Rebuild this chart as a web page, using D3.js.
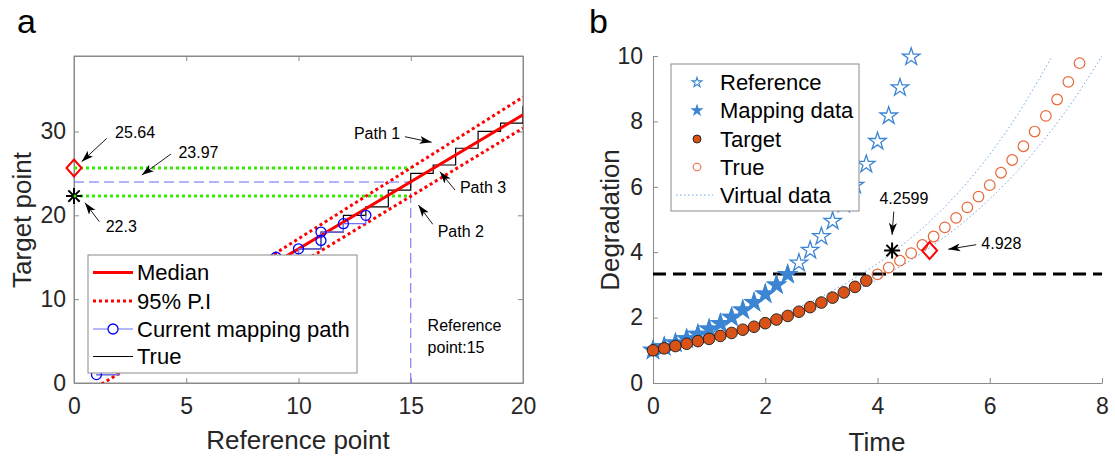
<!DOCTYPE html>
<html>
<head>
<meta charset="utf-8">
<script src="https://cdn.jsdelivr.net/npm/d3@7"></script>
<style>
  body { margin: 0; background: #fff; }
  svg { display: block; }
</style>
</head>
<body>
<svg id="fig" width="1115" height="460"></svg>
<script>
// ---------- panel a data ----------
var refPoints = [1,2,3,4,5,6,7,8,9,10,11,12,13,14,15,16,17,18,19,20];
var trueTarget = [1,3,4,6,8,9,11,13,14,16,18,20,21,23,25,26,28,30,31,33];
var bandX = [1, 20];
var medianY = [1.6, 32];
var upperY = [2.0, 34.1];
var lowerY = [-0.5, 30.4];
var pathX = [1,2,2,3,3,4,4,5,5,6,6,7,7,8,8,9,9,10,10,11,11,11,12,12,13,13];
var pathY = [1,1,3,3,4,4,6,6,8,8,9,9,11,11,13,13,15,15,16,16,17,18,18,19,19,20];
var markX = [1,2,3,4,5,6,7,8,9,10,11,11,12,13];
var markY = [1,3,4,6,8,9,11,13,15,16,17,18,19,20];
var refPoint = 15, predTarget = 23.97, upperTarget = 25.64, lowerTarget = 22.3;

// ---------- panel b data ----------
var refTime = [0,0.2,0.4,0.6,0.8,1.0,1.2,1.4,1.6,1.8,2.0,2.2,2.4,2.6,2.8,3.0,3.2,3.4,3.6,3.8,4.0,4.2,4.4,4.6];
var refDeg = [1.00,1.11,1.22,1.35,1.49,1.65,1.82,2.01,2.23,2.46,2.72,3.00,3.32,3.67,4.06,4.48,4.95,5.47,6.05,6.69,7.39,8.17,9.03,9.97];
var mapTime = [0,0.2,0.4,0.6,0.8,1.0,1.2,1.4,1.6,1.8,2.0,2.2,2.4];
var mapDeg = [1.00,1.11,1.22,1.35,1.49,1.65,1.82,2.01,2.23,2.46,2.72,3.00,3.32];
var targetTime = [0,0.2,0.4,0.6,0.8,1.0,1.2,1.4,1.6,1.8,2.0,2.2,2.4,2.6,2.8,3.0,3.2,3.4,3.6,3.8];
var targetDeg = [1.00,1.06,1.13,1.20,1.28,1.35,1.44,1.53,1.63,1.72,1.83,1.94,2.05,2.18,2.32,2.46,2.61,2.77,2.94,3.13];
var trueTime = [4.0,4.2,4.4,4.6,4.8,5.0,5.2,5.4,5.6,5.8,6.0,6.2,6.4,6.6,6.8,7.0,7.2,7.4,7.6];
var trueDeg = [3.32,3.53,3.74,3.97,4.22,4.48,4.76,5.05,5.37,5.70,6.05,6.43,6.82,7.24,7.69,8.17,8.67,9.21,9.78];
var virtUpT = [0,0.5,1,1.5,2,2.5,3,3.5,4,4.5,5,5.5,6,6.5,7,7.1];
var virtUpD = [1.00,1.18,1.38,1.63,1.91,2.25,2.64,3.11,3.65,4.30,5.05,5.94,6.99,8.22,9.66,9.97];
var virtLoT = [0,0.5,1,1.5,2,2.5,3,3.5,4,4.5,5,5.5,6,6.5,7,7.5,8];
var virtLoD = [1.00,1.16,1.33,1.54,1.78,2.05,2.37,2.74,3.17,3.66,4.22,4.87,5.63,6.50,7.51,8.67,10.0];
var threshold = 3.33;
var predTime = 4.2599, trueEol = 4.928, eolDeg = 4.05;

var font = "'Liberation Sans', Arial, Helvetica, sans-serif";
var txt = "#262626", axCol = "#8a8a8a";

var svg = d3.select("#fig").style("font-family", font);
var defs = svg.append("defs");
defs.append("marker").attr("id", "ah")
    .attr("viewBox", "0 0 12 10").attr("refX", 12).attr("refY", 5)
    .attr("markerWidth", 12).attr("markerHeight", 10)
    .attr("markerUnits", "userSpaceOnUse").attr("orient", "auto")
  .append("path").attr("d", "M0,1 L12,5 L0,9 L3,5 Z").attr("fill", "#000");

function asterisk(g, cx, cy, r, w) {
    var d = r * 0.7071;
    g.append("path")
        .attr("d", "M" + (cx - r) + "," + cy + "H" + (cx + r) + "M" + cx + "," + (cy - r) + "V" + (cy + r)
            + "M" + (cx - d) + "," + (cy - d) + "L" + (cx + d) + "," + (cy + d)
            + "M" + (cx - d) + "," + (cy + d) + "L" + (cx + d) + "," + (cy - d))
        .attr("stroke", "#000").attr("stroke-width", w).attr("fill", "none");
}
function diamond(g, cx, cy) {
    g.append("path")
        .attr("d", "M" + cx + "," + (cy - 8.5) + "L" + (cx + 7.5) + "," + cy + "L" + cx + "," + (cy + 8.5) + "L" + (cx - 7.5) + "," + cy + "Z")
        .attr("stroke", "#ff0000").attr("stroke-width", 2).attr("fill", "none");
}
function arrow(g, x1, y1, x2, y2) {
    g.append("line").attr("x1", x1).attr("y1", y1).attr("x2", x2).attr("y2", y2)
        .attr("stroke", "#000").attr("stroke-width", 0.9).attr("marker-end", "url(#ah)");
}
function label(g, x, y, s, size, anchor) {
    return g.append("text").attr("x", x).attr("y", y).attr("dy", "0.35em")
        .attr("font-size", size).attr("fill", "#000").attr("text-anchor", anchor || "start").text(s);
}
function styleAxis(a) {
    a.attr("font-size", 23).attr("font-family", font);
    a.selectAll("line").attr("stroke", axCol);
    a.selectAll("path").attr("stroke", axCol);
    a.selectAll("text").attr("fill", txt);
}

// ================= panel a =================
var xA = d3.scaleLinear().domain([0, 20]).range([74, 523]);
var yA = d3.scaleLinear().domain([0, 39]).range([383, 56]);
var gA = svg.append("g");

defs.append("clipPath").attr("id", "clipA").append("rect")
    .attr("x", 74).attr("y", 56).attr("width", 449).attr("height", 327);

styleAxis(gA.append("g").attr("transform", "translate(0,383)")
    .call(d3.axisBottom(xA).tickValues([0,5,10,15,20]).tickSizeInner(-5).tickSizeOuter(0).tickPadding(15)));
styleAxis(gA.append("g").attr("transform", "translate(74,0)")
    .call(d3.axisLeft(yA).tickValues([0,10,20,30]).tickSizeInner(-5).tickSizeOuter(0).tickPadding(8)));
styleAxis(gA.append("g").attr("transform", "translate(0,56)")
    .call(d3.axisTop(xA).tickValues([0,5,10,15,20]).tickSizeInner(-5).tickSizeOuter(0).tickFormat("")));
styleAxis(gA.append("g").attr("transform", "translate(523,0)")
    .call(d3.axisRight(yA).tickValues([0,10,20,30]).tickSizeInner(-5).tickSizeOuter(0).tickFormat("")));
gA.append("rect").attr("x", 74).attr("y", 56).attr("width", 449).attr("height", 327)
    .attr("fill", "none").attr("stroke", axCol).attr("stroke-width", 1);

var plotA = gA.append("g").attr("clip-path", "url(#clipA)");
var lineA = d3.line().x(d => xA(d[0])).y(d => yA(d[1]));

// green interval lines and blue reference guides
[upperTarget, lowerTarget].forEach(function (v) {
    plotA.append("path").datum([[0, v], [refPoint, v]]).attr("d", lineA)
        .attr("stroke", "#33ee00").attr("stroke-width", 3).attr("stroke-dasharray", "3,3").attr("fill", "none");
});
plotA.append("path").datum([[0, predTarget], [refPoint, predTarget]]).attr("d", lineA)
    .attr("stroke", "#6666ff").attr("stroke-width", 1).attr("stroke-dasharray", "10,5").attr("fill", "none");
plotA.append("path").datum([[refPoint, 0], [refPoint, predTarget]]).attr("d", lineA)
    .attr("stroke", "#6666ff").attr("stroke-width", 1).attr("stroke-dasharray", "10,5").attr("fill", "none");

// true staircase
plotA.append("path").datum(refPoints.map((x, i) => [x, trueTarget[i]]))
    .attr("d", d3.line().x(d => xA(d[0])).y(d => yA(d[1])).curve(d3.curveStepAfter))
    .attr("stroke", "#000").attr("stroke-width", 1.2).attr("fill", "none");

// median and prediction interval
plotA.append("path").datum(bandX.map((x, i) => [x, medianY[i]])).attr("d", lineA)
    .attr("stroke", "#ff0000").attr("stroke-width", 3).attr("fill", "none");
[upperY, lowerY].forEach(function (arr) {
    plotA.append("path").datum(bandX.map((x, i) => [x, arr[i]])).attr("d", lineA)
        .attr("stroke", "#ff0000").attr("stroke-width", 3).attr("stroke-dasharray", "3,3").attr("fill", "none");
});

// current mapping path
plotA.append("path").datum(pathX.map((x, i) => [x, pathY[i]])).attr("d", lineA)
    .attr("stroke", "#7070ff").attr("stroke-width", 1.2).attr("fill", "none");
gA.selectAll("circle.mp").data(markX.map((x, i) => [x, markY[i]])).enter()
    .append("circle").attr("class", "mp")
    .attr("cx", d => xA(d[0])).attr("cy", d => yA(d[1])).attr("r", 5)
    .attr("fill", "none").attr("stroke", "#0000ff").attr("stroke-width", 1.3);

diamond(gA, xA(0), yA(upperTarget));
asterisk(gA, xA(0), yA(lowerTarget), 8, 2);
gA.append("circle").attr("cx", xA(0) + 1).attr("cy", yA(lowerTarget)).attr("r", 1.5).attr("fill", "#33ee00");

// annotations a
label(gA, xA(1.83), yA(29.85), "25.64", 16);
arrow(gA, xA(1.46), yA(29.18), xA(0.34), yA(26.39));
label(gA, xA(4.65), yA(27.47), "23.97", 16);
arrow(gA, xA(4.32), yA(27.31), xA(3.02), yA(24.8));
label(gA, xA(1.41), yA(18.72), "22.3", 16);
arrow(gA, xA(1.13), yA(19.24), xA(0.49), yA(21.5));
label(gA, xA(12.47), yA(29.78), "Path 1", 16);
arrow(gA, xA(14.74), yA(29.37), xA(15.93), yA(28.71));
label(gA, xA(17.19), yA(23.34), "Path 3", 16);
arrow(gA, xA(16.97), yA(23.02), xA(16.3), yA(25.2));
label(gA, xA(16.2), yA(18.04), "Path 2", 16);
arrow(gA, xA(15.98), yA(18.93), xA(15.34), yA(21.23));
label(gA, xA(15.75), yA(6.92), "Reference", 16);
label(gA, xA(15.75), yA(4.26), "point:15", 16);

// legend a
var legA = gA.append("g");
legA.append("rect").attr("x", 88).attr("y", 255).attr("width", 269).attr("height", 118)
    .attr("fill", "#fff").attr("stroke", axCol).attr("stroke-width", 1);
var legRowsA = [
    {name: "Median", y: 272.5},
    {name: "95% P.I", y: 301},
    {name: "Current mapping path", y: 329},
    {name: "True", y: 356.5}
];
legRowsA.forEach(function (r, i) {
    var ln = legA.append("line").attr("x1", 93).attr("x2", 133).attr("y1", r.y).attr("y2", r.y);
    if (i == 0) ln.attr("stroke", "#ff0000").attr("stroke-width", 3);
    if (i == 1) ln.attr("stroke", "#ff0000").attr("stroke-width", 3).attr("stroke-dasharray", "3,3");
    if (i == 2) {
        ln.attr("stroke", "#7070ff").attr("stroke-width", 1.2);
        legA.append("circle").attr("cx", 113).attr("cy", r.y).attr("r", 5)
            .attr("fill", "#fff").attr("stroke", "#0000ff").attr("stroke-width", 1.3);
    }
    if (i == 3) ln.attr("stroke", "#000").attr("stroke-width", 1.2);
    legA.append("text").attr("x", 137).attr("y", r.y).attr("dy", "0.35em")
        .attr("font-size", 22).attr("fill", "#000").text(r.name);
});

gA.append("text").attr("x", 298).attr("y", 449).attr("text-anchor", "middle")
    .attr("font-size", 26).attr("fill", txt).text("Reference point");
gA.append("text").attr("transform", "translate(31,220) rotate(-90)").attr("text-anchor", "middle")
    .attr("font-size", 26).attr("fill", txt).text("Target point");
svg.append("text").attr("x", 17).attr("y", 33).attr("font-size", 34).attr("fill", "#000").text("a");

// ================= panel b =================
var xB = d3.scaleLinear().domain([0, 8]).range([653, 1102]);
var yB = d3.scaleLinear().domain([0, 10]).range([383, 56]);
var gB = svg.append("g");

defs.append("clipPath").attr("id", "clipB").append("rect")
    .attr("x", 653).attr("y", 56).attr("width", 449).attr("height", 327);

styleAxis(gB.append("g").attr("transform", "translate(0,383)")
    .call(d3.axisBottom(xB).tickValues([0,2,4,6,8]).tickSizeInner(-5).tickSizeOuter(0).tickPadding(15)));
styleAxis(gB.append("g").attr("transform", "translate(653,0)")
    .call(d3.axisLeft(yB).tickValues([0,2,4,6,8,10]).tickSizeInner(-5).tickSizeOuter(0).tickPadding(10)));

var plotB = gB.append("g").attr("clip-path", "url(#clipB)");
var curveB = d3.line().x(d => xB(d[0])).y(d => yB(d[1])).curve(d3.curveCatmullRom);

plotB.append("path").datum(virtUpT.map((t, i) => [t, virtUpD[i]])).attr("d", curveB)
    .attr("stroke", "#6fa6e6").attr("stroke-width", 1).attr("stroke-dasharray", "1.5,2.5").attr("fill", "none");
plotB.append("path").datum(virtLoT.map((t, i) => [t, virtLoD[i]])).attr("d", curveB)
    .attr("stroke", "#6fa6e6").attr("stroke-width", 1).attr("stroke-dasharray", "1.5,2.5").attr("fill", "none");

plotB.append("line").attr("x1", xB(0)).attr("x2", xB(8)).attr("y1", yB(threshold)).attr("y2", yB(threshold))
    .attr("stroke", "#000").attr("stroke-width", 3).attr("stroke-dasharray", "13,7");

var star = d3.symbol().type(d3.symbolStar).size(95);
var starSmall = d3.symbol().type(d3.symbolStar).size(30);

gB.selectAll("path.ref").data(refTime.map((t, i) => [t, refDeg[i]])).enter()
    .append("path").attr("class", "ref").attr("d", star)
    .attr("transform", d => "translate(" + xB(d[0]) + "," + yB(d[1]) + ")")
    .attr("fill", "none").attr("stroke", "#3c85d3").attr("stroke-width", 1.3);
gB.selectAll("path.map").data(mapTime.map((t, i) => [t, mapDeg[i]])).enter()
    .append("path").attr("class", "map").attr("d", star)
    .attr("transform", d => "translate(" + xB(d[0]) + "," + yB(d[1]) + ")")
    .attr("fill", "#3c85d3").attr("stroke", "#3c85d3").attr("stroke-width", 1.3);

gB.selectAll("circle.tg").data(targetTime.map((t, i) => [t, targetDeg[i]])).enter()
    .append("circle").attr("class", "tg")
    .attr("cx", d => xB(d[0])).attr("cy", d => yB(d[1])).attr("r", 5.8)
    .attr("fill", "#d95319").attr("stroke", "#1a1a1a").attr("stroke-width", 0.9);
gB.selectAll("circle.tr").data(trueTime.map((t, i) => [t, trueDeg[i]])).enter()
    .append("circle").attr("class", "tr")
    .attr("cx", d => xB(d[0])).attr("cy", d => yB(d[1])).attr("r", 5.3)
    .attr("fill", "none").attr("stroke", "#e8683a").attr("stroke-width", 1.2);

asterisk(gB, xB(predTime), yB(eolDeg), 8, 2);
diamond(gB, xB(trueEol), yB(eolDeg));

label(gB, xB(4.47), yB(5.66), "4.2599", 16, "middle");
arrow(gB, xB(4.29), yB(5.24), xB(4.26), yB(4.53));
label(gB, xB(5.85), yB(4.28), "4.928", 16);
arrow(gB, xB(5.76), yB(4.23), xB(5.26), yB(4.09));

// legend b
var legB = gB.append("g");
legB.append("rect").attr("x", 671).attr("y", 64).attr("width", 188).attr("height", 147)
    .attr("fill", "#fff").attr("stroke", axCol).attr("stroke-width", 1);
var legRowsB = [
    {name: "Reference", y: 82.5},
    {name: "Mapping data", y: 110.5},
    {name: "Target", y: 139},
    {name: "True", y: 167},
    {name: "Virtual data", y: 195}
];
legRowsB.forEach(function (r, i) {
    var mx = 697;
    if (i == 0) legB.append("path").attr("d", starSmall).attr("transform", "translate(" + mx + "," + r.y + ")")
        .attr("fill", "none").attr("stroke", "#3c85d3").attr("stroke-width", 1.1);
    if (i == 1) legB.append("path").attr("d", starSmall).attr("transform", "translate(" + mx + "," + r.y + ")")
        .attr("fill", "#3c85d3").attr("stroke", "#3c85d3").attr("stroke-width", 1.1);
    if (i == 2) legB.append("circle").attr("cx", mx).attr("cy", r.y).attr("r", 4)
        .attr("fill", "#d95319").attr("stroke", "#1a1a1a").attr("stroke-width", 0.9);
    if (i == 3) legB.append("circle").attr("cx", mx).attr("cy", r.y).attr("r", 3.8)
        .attr("fill", "none").attr("stroke", "#e8683a").attr("stroke-width", 1.1);
    if (i == 4) legB.append("line").attr("x1", 676).attr("x2", 713).attr("y1", r.y).attr("y2", r.y)
        .attr("stroke", "#6fa6e6").attr("stroke-width", 1).attr("stroke-dasharray", "1.5,2.5");
    legB.append("text").attr("x", 720).attr("y", r.y).attr("dy", "0.35em")
        .attr("font-size", 22).attr("fill", "#000").text(r.name);
});

gB.append("text").attr("x", 877).attr("y", 451).attr("text-anchor", "middle")
    .attr("font-size", 26).attr("fill", txt).text("Time");
gB.append("text").attr("transform", "translate(619,220) rotate(-90)").attr("text-anchor", "middle")
    .attr("font-size", 26).attr("fill", txt).text("Degradation");
svg.append("text").attr("x", 589).attr("y", 33).attr("font-size", 34).attr("fill", "#000").text("b");
</script>
</body>
</html>
